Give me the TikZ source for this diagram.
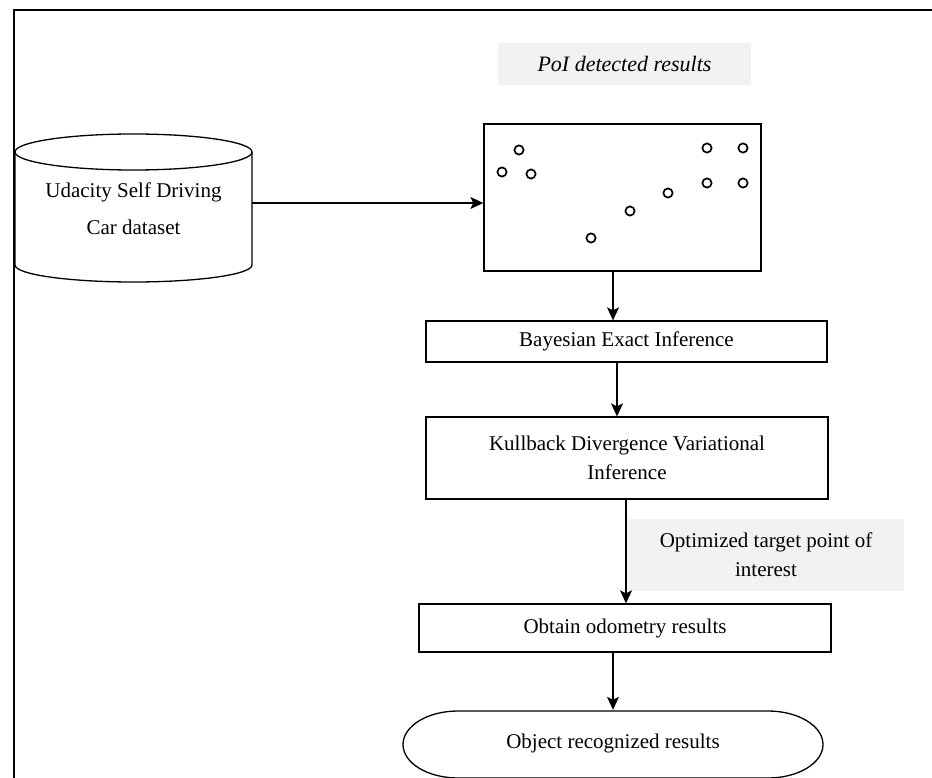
\documentclass[tikz,border=0pt]{standalone}
\usepackage{fontspec}
\setmainfont{Liberation Serif}
\usetikzlibrary{arrows.meta}
\definecolor{lgray}{HTML}{F2F2F2}
\tikzset{
  x=1pt, y=1pt,
  ln/.style={line width=1.3pt, draw=black},
  box/.style={ln, rectangle, inner sep=0pt, align=center,
    font=\fontsize{21}{29}\selectfont},
  txt/.style={inner sep=0pt, align=center, font=\fontsize{21}{29}\selectfont},
  arr/.style={line width=1.3pt, -{Stealth[length=13pt,width=12pt,inset=3pt]}},
  graybox/.style={fill=lgray, inner sep=0pt, align=center,
    font=\fontsize{21}{29}\selectfont},
  pt/.style={line width=1.7pt}
}
\begin{document}
\begin{tikzpicture}
\useasboundingbox (0,0) rectangle (932,-778);
\clip (0,0) rectangle (932,-778);
% frame
\draw[line width=1.4pt] (14,-790) -- (14,-10) -- (940,-10);

% title
\node[graybox, minimum width=253pt, minimum height=42pt,
  font=\fontsize{22}{26}\selectfont\itshape] (title) at (624.5,-64) {PoI detected results};

% cylinder
\draw[ln] (133.5,-152) ellipse [x radius=118.5, y radius=18];
\draw[ln] (15,-152) -- (15,-265) arc[start angle=180, end angle=360, x radius=118.5, y radius=17] -- (252,-152);
\node[txt, minimum width=237pt, minimum height=113pt, font=\fontsize{21}{37}\selectfont]
  (data) at (133.5,-208.5) {Udacity Self Driving\\Car dataset};

% scatter box
\node[box, minimum width=277pt, minimum height=147pt] (scat) at (622.5,-197.5) {};
\foreach \px/\py in {519/150, 502/172, 531/174, 591/238, 630/211, 668/193,
                     707/148, 743/148, 707/183, 743/183}
  \draw[pt] (\px,-\py) circle (4.6pt);

% process boxes
\node[box, minimum width=401pt, minimum height=41pt] (bayes) at (626.5,-341.5) {Bayesian Exact Inference};
\node[box, minimum width=402pt, minimum height=82pt] (kull) at (627,-458) {Kullback Divergence Variational\\Inference};
\node[graybox, minimum width=276pt, minimum height=72pt] (opt) at (766,-555) {Optimized target point of\\interest};
\node[box, minimum width=412pt, minimum height=48pt] (obt) at (625,-628) {Obtain odometry results};

% terminator
\node[txt, minimum width=420pt, minimum height=66pt] (obj) at (613,-743) {Object recognized results};
\draw[ln] (458,-711) -- (768,-711)
  arc[start angle=90, end angle=-90, x radius=55, y radius=33.5] -- (458,-778)
  arc[start angle=270, end angle=90, x radius=55, y radius=33.5] -- cycle;

% connectors
\draw[arr] ([yshift=5.5pt]data.east) -- ([yshift=5.5pt]data.east -| scat.west);
\draw[arr] ([xshift=-9.5pt]scat.south) -- ([xshift=-9.5pt]scat.south |- bayes.north);
\draw[arr] ([xshift=-9.5pt]bayes.south) -- ([xshift=-9.5pt]bayes.south |- kull.north);
\draw[arr] ([xshift=-1pt]kull.south) -- ([xshift=-1pt]kull.south |- obt.north);
\draw[arr] (obt.south -| obj.north) -- (obj.north);
\end{tikzpicture}
\end{document}
